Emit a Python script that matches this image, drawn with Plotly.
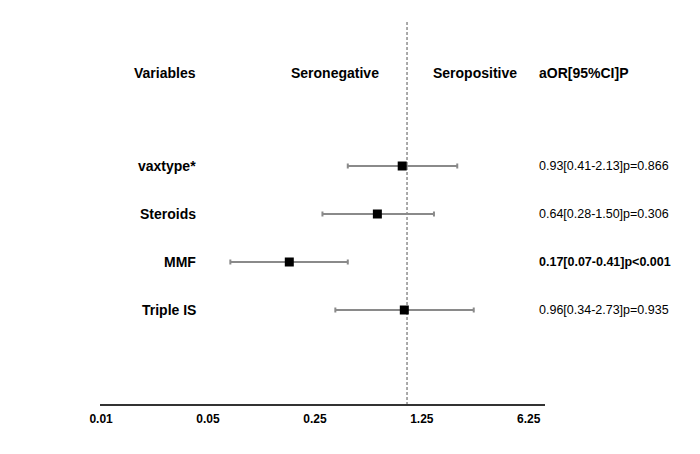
import plotly.graph_objects as go

# ---- data ----
variables = ["vaxtype*", "Steroids", "MMF", "Triple IS"]
aor = [0.93, 0.64, 0.17, 0.96]
ci_low = [0.41, 0.28, 0.07, 0.34]
ci_high = [2.13, 1.50, 0.41, 2.73]
p_values = ["=0.866", "=0.306", "<0.001", "=0.935"]
significant = [False, False, True, False]
tick_values = [0.01, 0.05, 0.25, 1.25, 6.25]
tick_labels = ["0.01", "0.05", "0.25", "1.25", "6.25"]
headers = ["Variables", "Seronegative", "Seropositive", "aOR[95%CI]P"]
reference_value = 1

# ---- layout helpers (page has an 8px body offset) ----
OFF = 8
W, H = 700 - OFF, 454 - OFF
L, R = 100 - OFF, 545 - OFF      # x-axis extent in px
B = 404 - OFF                    # x-axis line y in px
n = len(variables)
ypos = [n - i for i in range(n)]   # rows top -> bottom
row0_px, row_step = 166 - OFF, 48
def y_of_px(p):
    return n + (row0_px - p) / row_step
y_top = y_of_px(0)
y_bot = y_of_px(B)
def xp(px):
    return (px - OFF - L) / (R - L)

FONT = "Liberation Sans, Arial, Helvetica, sans-serif"

fig = go.Figure()

# reference dashed line
fig.add_trace(go.Scatter(
    x=[reference_value, reference_value], y=[y_of_px(22 - OFF), y_bot],
    mode="lines", line=dict(color="#555555", width=1, dash="3px,2px"),
    hoverinfo="skip", showlegend=False, cliponaxis=False))

# estimates with CI
fig.add_trace(go.Scatter(
    x=aor, y=ypos, mode="markers",
    marker=dict(symbol="square", size=9, color="black"),
    error_x=dict(type="data", symmetric=False,
                 array=[h - e for h, e in zip(ci_high, aor)],
                 arrayminus=[e - l for e, l in zip(aor, ci_low)],
                 color="#8a8a8a", thickness=2, width=2.5),
    showlegend=False, cliponaxis=False))

ann = []
# headers
hdr_y = y_of_px(73 - OFF)
ann.append(dict(text=f"<b>{headers[0]}</b>", x=xp(198), xanchor="right"))
ann.append(dict(text=f"<b>{headers[1]}</b>", x=xp(381), xanchor="right"))
ann.append(dict(text=f"<b>{headers[2]}</b>", x=xp(431), xanchor="left"))
ann.append(dict(text=f"<b>{headers[3]}</b>", x=xp(537), xanchor="left"))
for a in ann:
    a.update(y=hdr_y, font=dict(size=14, family=FONT, color="black"))

# rows
for v, y, e, lo, hi, p, s in zip(variables, ypos, aor, ci_low, ci_high, p_values, significant):
    ann.append(dict(text=f"<b>{v}</b>", x=xp(198), xanchor="right", y=y,
                    font=dict(size=14, family=FONT, color="black")))
    txt = f"{e:.2f}[{lo:.2f}-{hi:.2f}]p{p}"
    if s:
        txt = f"<b>{txt}</b>"
    ann.append(dict(text=txt, x=xp(537), xanchor="left", y=y,
                    font=dict(size=12.5, family=FONT, color="black")))

for a in ann:
    a.update(xref="paper", yref="y", yanchor="middle", showarrow=False)

fig.update_layout(
    width=W, height=H,
    margin=dict(l=L, r=W - R, t=0, b=H - B),
    plot_bgcolor="white", paper_bgcolor="white",
    annotations=ann,
    xaxis=dict(type="log", range=[-2.007, 0.902],
               tickvals=tick_values, ticktext=tick_labels,
               showline=True, linecolor="#333333", linewidth=1.5,
               ticks="", showgrid=False, zeroline=False,
               ticklabelstandoff=3,
               tickfont=dict(size=12, family=FONT, color="black", weight="bold")),
    yaxis=dict(range=[y_bot, y_top], visible=False, fixedrange=True),
)

fig.write_html("out.html")
